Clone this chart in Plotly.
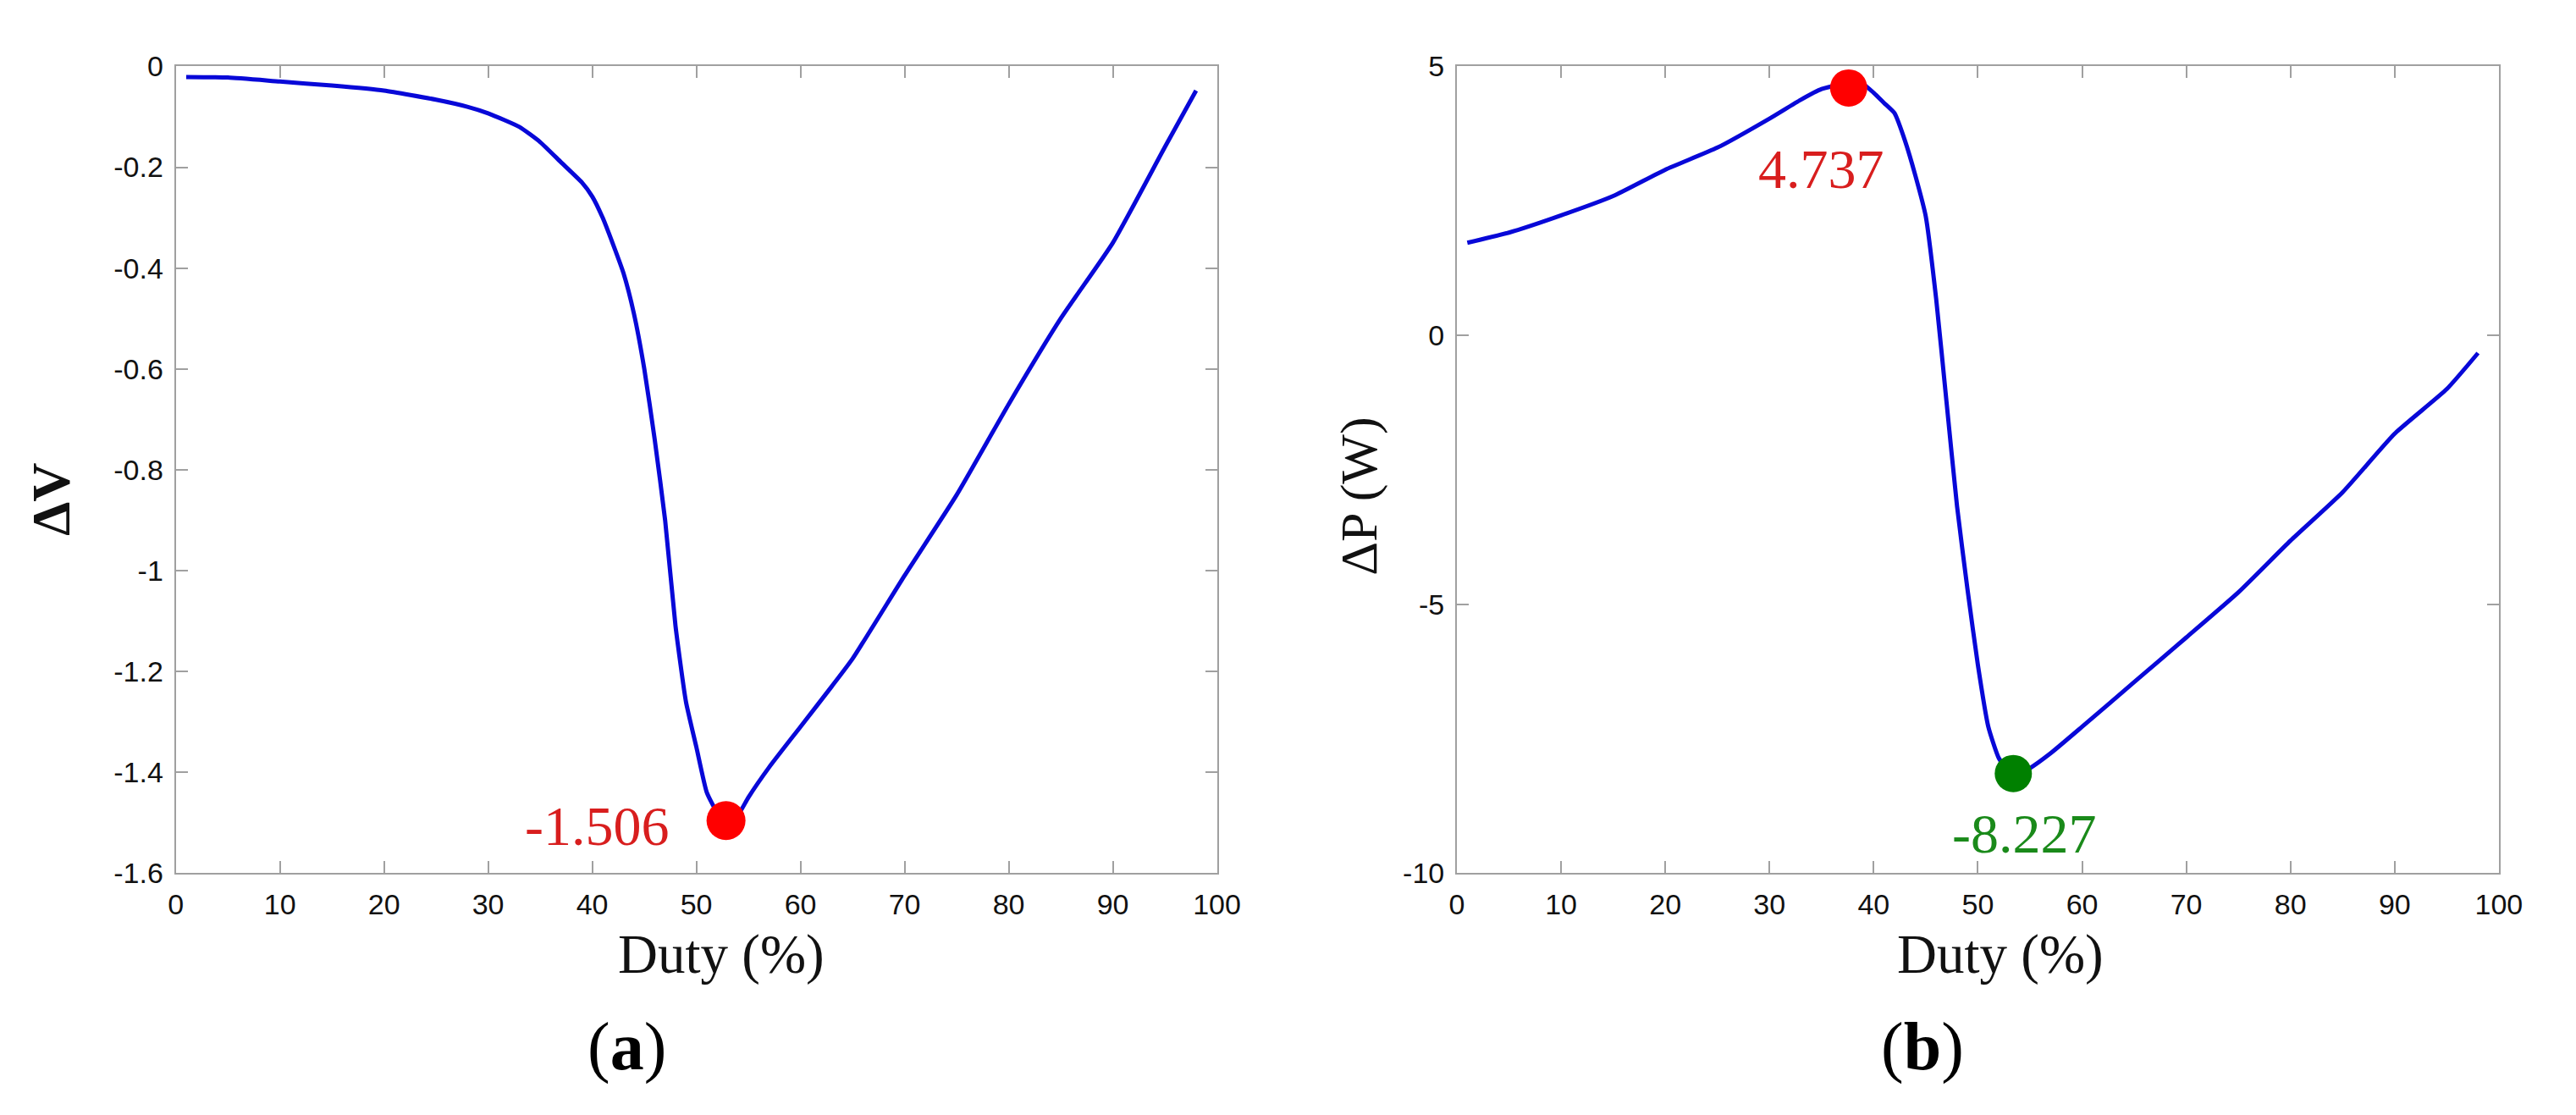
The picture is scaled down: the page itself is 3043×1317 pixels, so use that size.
import plotly.graph_objects as go

# ---- data (a): Delta V vs duty ----
duty_a = [1, 5, 10, 15, 20, 25, 28, 30, 33, 35, 37, 39, 40, 41, 42, 43, 44, 45, 46, 47,
          48, 49, 50, 51, 52, 53, 54, 55, 57, 60, 63, 65, 70, 75, 80, 85, 90, 95, 98]
dv = [-0.021, -0.022, -0.030, -0.038, -0.048, -0.066, -0.080, -0.093, -0.12, -0.15,
      -0.19, -0.23, -0.258, -0.30, -0.353, -0.41, -0.49, -0.60, -0.74, -0.90,
      -1.11, -1.26, -1.35, -1.44, -1.48, -1.50, -1.485, -1.45, -1.39, -1.31,
      -1.23, -1.175, -1.01, -0.85, -0.67, -0.50, -0.35, -0.16, -0.048]

# ---- data (b): Delta P vs duty ----
duty_b = [1, 5, 10, 15, 20, 25, 30, 33, 35, 37, 38, 39, 40, 41, 42, 43, 44, 45, 46, 47,
          48, 49, 50, 51, 52, 53, 54, 55, 57, 60, 65, 70, 75, 80, 85, 90, 95, 98]
dp = [1.72, 1.91, 2.23, 2.59, 3.08, 3.49, 4.03, 4.38, 4.58, 4.67, 4.70, 4.67, 4.51,
      4.32, 4.13, 3.62, 2.97, 2.21, 0.67, -1.26, -3.18, -4.72, -6.13, -7.28, -7.86,
      -8.12, -8.15, -8.05, -7.77, -7.28, -6.45, -5.62, -4.78, -3.82, -2.92, -1.83,
      -1.00, -0.33]

# highlighted points
min_a = (52.85, -1.496, "-1.506")
max_b = (37.6, 4.60, "4.737")
min_b = (53.4, -8.15, "-8.227")

# tick labels
xticks = [0, 10, 20, 30, 40, 50, 60, 70, 80, 90, 100]
xticktext = ["0", "10", "20", "30", "40", "50", "60", "70", "80", "90", "100"]
yticks_a = [0, -0.2, -0.4, -0.6, -0.8, -1.0, -1.2, -1.4, -1.6]
yticktext_a = ["0", "-0.2", "-0.4", "-0.6", "-0.8", "-1", "-1.2", "-1.4", "-1.6"]
yticks_b = [5, 0, -5, -10]
yticktext_b = ["5", "0", "-5", "-10"]

W, H = 3043, 1317
SANS = "Liberation Sans, Arial, sans-serif"
SERIF = "Liberation Serif, Times New Roman, serif"
LINE = "#0808d8"
AXC = "#a0a0a0"
RED_T = "#d81e1e"
GREEN_T = "#1a8a1a"

fig = go.Figure()
fig.add_trace(go.Scatter(x=duty_a, y=dv, mode="lines",
                         line=dict(color=LINE, width=5, shape="spline", smoothing=0.5),
                         xaxis="x", yaxis="y", showlegend=False))
fig.add_trace(go.Scatter(x=[min_a[0]], y=[min_a[1]], mode="markers",
                         marker=dict(color="#ff0000", size=46), xaxis="x", yaxis="y",
                         showlegend=False))
fig.add_trace(go.Scatter(x=duty_b, y=dp, mode="lines",
                         line=dict(color=LINE, width=5, shape="spline", smoothing=0.5),
                         xaxis="x2", yaxis="y2", showlegend=False))
fig.add_trace(go.Scatter(x=[max_b[0]], y=[max_b[1]], mode="markers",
                         marker=dict(color="#ff0000", size=44), xaxis="x2", yaxis="y2",
                         showlegend=False))
fig.add_trace(go.Scatter(x=[min_b[0]], y=[min_b[1]], mode="markers",
                         marker=dict(color="#008000", size=44), xaxis="x2", yaxis="y2",
                         showlegend=False))

def px_x(p):
    return p / W

def px_y(p):
    return 1 - p / H

axis_common = dict(showgrid=False, zeroline=False, showline=True, linecolor=AXC,
                   linewidth=2, mirror="ticks", ticks="inside", ticklen=14, tickwidth=2,
                   tickcolor=AXC, tickfont=dict(family=SANS, size=34, color="#111111"))

fig.update_layout(
    width=W, height=H, margin=dict(l=0, r=0, t=0, b=0),
    paper_bgcolor="white", plot_bgcolor="white",
    xaxis=dict(domain=[px_x(193), px_x(1438)], range=[0, 100], tickvals=xticks,
               ticktext=xticktext, anchor="y", ticklabelstandoff=6, **axis_common),
    yaxis=dict(domain=[px_y(1034), px_y(53)], range=[-1.6, 0], tickvals=yticks_a,
               ticktext=yticktext_a, anchor="x", ticklabelstandoff=6, **axis_common),
    xaxis2=dict(domain=[px_x(1725), px_x(2971)], range=[0, 100], tickvals=xticks,
                ticktext=xticktext, anchor="y2", ticklabelstandoff=6, **axis_common),
    yaxis2=dict(domain=[px_y(1034), px_y(53)], range=[-10, 5], tickvals=yticks_b,
                ticktext=yticktext_b, anchor="x2", ticklabelstandoff=6, **axis_common),
)

ann = []
# value labels
ann.append(dict(x=40.4, y=-1.507, xref="x", yref="y", text=min_a[2], showarrow=False,
                font=dict(family=SERIF, size=66, color=RED_T), xanchor="center", yanchor="middle"))
ann.append(dict(x=35.0, y=3.10, xref="x2", yref="y2", text=max_b[2], showarrow=False,
                font=dict(family=SERIF, size=66, color=RED_T), xanchor="center", yanchor="middle"))
ann.append(dict(x=54.4, y=-9.27, xref="x2", yref="y2", text=min_b[2], showarrow=False,
                font=dict(family=SERIF, size=66, color=GREEN_T), xanchor="center", yanchor="middle"))
# axis titles
for xc in (845, 2375):
    ann.append(dict(x=px_x(xc), y=px_y(1133), xref="paper", yref="paper", text="Duty (%)",
                    showarrow=False, font=dict(family=SERIF, size=65, color="#111111"),
                    xanchor="center", yanchor="middle"))
ann.append(dict(x=px_x(44), y=px_y(579), xref="paper", yref="paper", text="<b>ΔV</b>",
                showarrow=False, textangle=-90, font=dict(family=SERIF, size=64, color="#111111"),
                xanchor="center", yanchor="middle"))
ann.append(dict(x=px_x(1608), y=px_y(576), xref="paper", yref="paper", text="ΔP (W)",
                showarrow=False, textangle=-90, font=dict(family=SERIF, size=62, color="#111111"),
                xanchor="center", yanchor="middle"))
# panel labels
ann.append(dict(x=px_x(732), y=px_y(1245), xref="paper", yref="paper", text="(<b>a</b>)",
                showarrow=False, font=dict(family=SERIF, size=80, color="#000000"),
                xanchor="center", yanchor="middle"))
ann.append(dict(x=px_x(2282), y=px_y(1245), xref="paper", yref="paper", text="(<b>b</b>)",
                showarrow=False, font=dict(family=SERIF, size=80, color="#000000"),
                xanchor="center", yanchor="middle"))
fig.update_layout(annotations=ann)

fig.write_html("out.html")
